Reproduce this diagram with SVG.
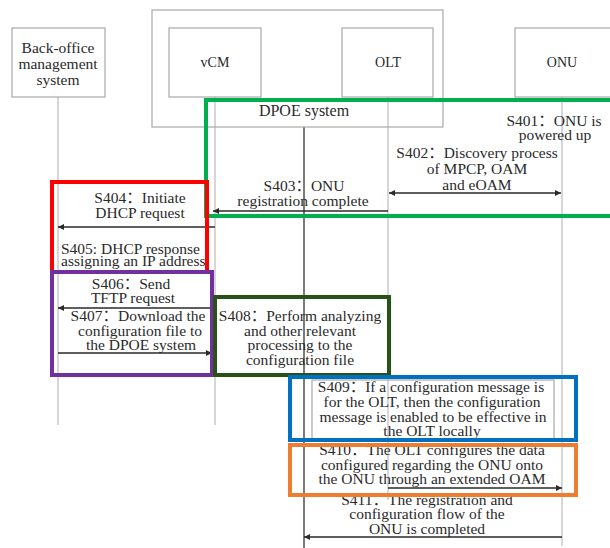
<svg xmlns="http://www.w3.org/2000/svg" width="610" height="548" viewBox="0 0 610 548">
<style>
text{font-family:'Liberation Serif','Noto Sans CJK SC',serif;fill:#2a2a2a;font-size:15.5px;text-anchor:middle}
.hd{font-size:14px}
.box{fill:#fff;stroke:#a8a8a8;stroke-width:1.2}
.outer{fill:none;stroke:#a8a8a8;stroke-width:1.2}
.life{stroke:#bdbdbd;stroke-width:1.2}
.main{stroke:#333;stroke-width:1.3}
.msg{stroke:#2a2a2a;stroke-width:1.3;fill:none}
.hl{fill:none;stroke-width:4}
</style>
<defs>
<marker id="ah" viewBox="0 0 10 10" refX="10" refY="5" markerWidth="9" markerHeight="6" markerUnits="userSpaceOnUse" orient="auto-start-reverse"><path d="M0,0 L10,5 L0,10 z" fill="#2a2a2a"/></marker>
</defs>
<rect width="610" height="548" fill="#fff"/>

<g id="lifelines">
<line class="life" x1="58" y1="97" x2="58" y2="425"/>
<line class="life" x1="215" y1="97" x2="215" y2="425"/>
<line class="life" x1="388" y1="97" x2="388" y2="500"/>
<line class="life" x1="562" y1="97" x2="562" y2="546"/>
<line class="main" x1="304" y1="127" x2="304" y2="548"/>
</g>

<g id="dpoe-system">
<rect class="outer" x="152" y="10" width="291" height="117"/>
<text x="304" y="116" style="font-size:16px">DPOE system</text>
</g>
<g id="back-office">
<rect class="box" x="12" y="28" width="93" height="69"/>
<text x="58" y="53">Back-office</text>
<text x="58" y="69">management</text>
<text x="58" y="85">system</text>
</g>
<g id="vcm">
<rect class="box" x="169" y="28" width="92" height="69"/>
<text class="hd" x="215" y="67">vCM</text>
</g>
<g id="olt">
<rect class="box" x="342" y="28" width="91" height="69"/>
<text class="hd" x="388" y="67">OLT</text>
</g>
<g id="onu">
<rect class="box" x="515" y="28" width="100" height="69"/>
<text class="hd" x="562" y="67">ONU</text>
</g>

<g id="connectors">
<line class="msg" x1="389" y1="193" x2="561" y2="193" marker-start="url(#ah)" marker-end="url(#ah)"/>
<line class="msg" x1="388" y1="211" x2="213" y2="211" marker-end="url(#ah)"/>
<line class="msg" x1="215" y1="227" x2="58" y2="227" marker-end="url(#ah)"/>
<line class="msg" x1="212" y1="308" x2="58" y2="308" marker-end="url(#ah)"/>
<line class="msg" x1="58" y1="353" x2="212" y2="353" marker-end="url(#ah)"/>
<line class="msg" x1="388" y1="488" x2="562" y2="488" marker-end="url(#ah)"/>
<line class="msg" x1="562" y1="537" x2="304" y2="537" marker-end="url(#ah)"/>
</g>

<g id="s401">
<text x="554" y="126">S401：ONU is</text>
<text x="555" y="140">powered up</text>
</g>
<g id="s402">
<text x="477" y="158">S402：Discovery process</text>
<text x="477" y="174">of MPCP, OAM</text>
<text x="477" y="190">and eOAM</text>
</g>
<g id="s403">
<text x="304" y="191">S403：ONU</text>
<text x="303" y="206">registration complete</text>
</g>
<g id="s404">
<text x="140" y="203">S404：Initiate</text>
<text x="140" y="218">DHCP request</text>
</g>
<g id="s405">
<text x="61" y="254" style="text-anchor:start">S405: DHCP response</text>
<text x="61" y="266" style="text-anchor:start">assigning an IP address</text>
</g>
<g id="s406">
<text x="131" y="289">S406：Send</text>
<text x="133" y="303">TFTP request</text>
</g>
<g id="s407">
<text x="138" y="321">S407：Download the</text>
<text x="140" y="336">configuration file to</text>
<text x="141" y="350">the DPOE system</text>
</g>
<g id="s408">
<text x="300" y="321">S408：Perform analyzing</text>
<text x="300" y="336">and other relevant</text>
<text x="300" y="350">processing to the</text>
<text x="300" y="365">configuration file</text>
</g>
<g id="s409">
<rect class="outer" x="312" y="380" width="242" height="60"/>
<text x="431" y="392">S409：If a configuration message is</text>
<text x="432" y="407">for the OLT, then the configuration</text>
<text x="433" y="422">message is enabled to be effective in</text>
<text x="432" y="436">the OLT locally</text>
</g>
<g id="s410">
<text x="432" y="455">S410：The OLT configures the data</text>
<text x="432" y="470">configured regarding the ONU onto</text>
<text x="432" y="484">the ONU through an extended OAM</text>
</g>
<g id="s411">
<text x="427" y="505">S411：The registration and</text>
<text x="427" y="519">configuration flow of the</text>
<text x="427" y="534">ONU is completed</text>
</g>

<g id="highlights">
<rect class="hl" x="206" y="100" width="410" height="116" stroke="#00b050"/>
<rect class="hl" x="52" y="182" width="155" height="90" stroke="#ff0000"/>
<rect class="hl" x="52" y="272" width="160" height="103" stroke="#7030a0"/>
<rect class="hl" x="215" y="297" width="174" height="78" stroke="#275317"/>
<rect class="hl" x="290" y="377" width="286" height="63" stroke="#0070c0"/>
<rect class="hl" x="290" y="445" width="286" height="50" stroke="#ed7d31"/>
</g>
</svg>
